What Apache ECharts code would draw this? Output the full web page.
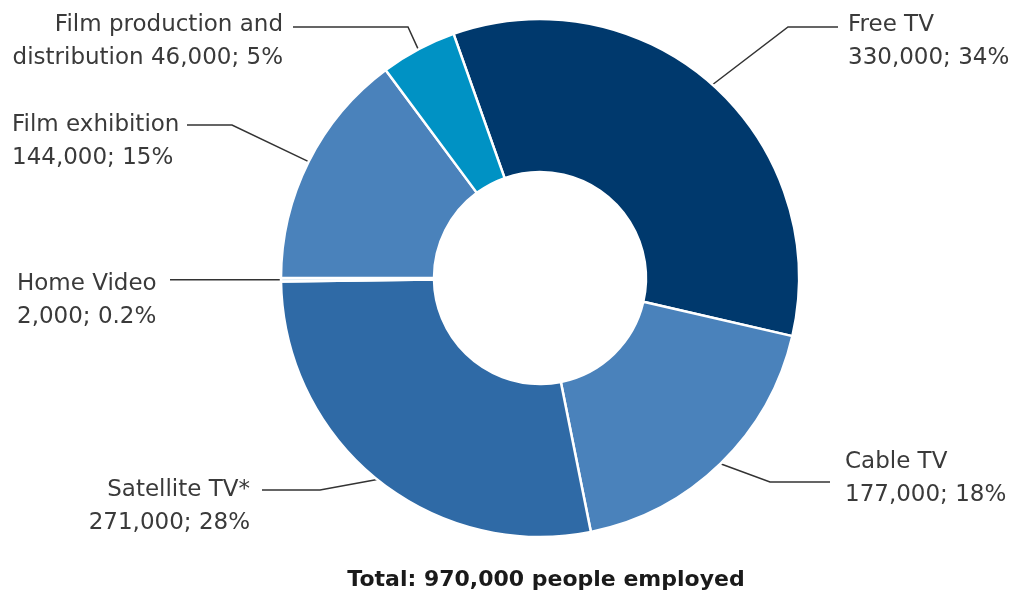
<!DOCTYPE html>
<html>
<head>
<meta charset="utf-8">
<script src="https://cdn.jsdelivr.net/npm/echarts@6/dist/echarts.min.js"></script>
<style>
html,body{margin:0;padding:0;background:#fff;}
#chart{width:1018px;height:592px;}
</style>
</head>
<body>
<div id="chart"></div>
<script>
// ---- data ----
const categories = ['Free TV', 'Cable TV', 'Satellite TV*', 'Home Video', 'Film exhibition', 'Film production and\ndistribution'];
const employees = [330000, 177000, 271000, 2000, 144000, 46000];
const percentLabels = ['34%', '18%', '28%', '0.2%', '15%', '5%'];
const totalText = 'Total: 970,000 people employed';

// ---- styles ----
const colors = ['#00396d', '#4a82bb', '#2f6aa6', '#cfe3f2', '#4a82bb', '#0092c4'];
// label placement: text anchor (x, y top), alignment, elbow & end points of leader line
const labelPlacement = [
  { x: 848, y: 9,   align: 'left',  elbow: [788, 27],  end: [838, 27] },
  { x: 845, y: 446, align: 'left',  elbow: [770, 482], end: [830, 482] },
  { x: 250, y: 474, align: 'right', elbow: [320, 490], end: [262, 490] },
  { x: 17,  y: 268, align: 'left',  elbow: [230, null], end: [170, null] },
  { x: 12,  y: 109, align: 'left',  elbow: [232, 125], end: [187, 125] },
  { x: 283, y: 9,   align: 'right', elbow: [408, 27],  end: [293, 27] }
];
const FONT = 'DejaVu Sans, Liberation Sans, Arial, sans-serif';

function fmt(n) { return n.toLocaleString('en-US'); }

const chart = echarts.init(document.getElementById('chart'));
chart.setOption({
  backgroundColor: '#ffffff',
  animation: false,
  title: {
    text: totalText,
    left: 541,
    textAlign: 'center',
    top: 564,
    textStyle: { fontFamily: FONT, fontSize: 22, fontWeight: 'bold', color: '#1a1a1a' }
  },
  series: [{
    type: 'pie',
    center: [540, 278],
    radius: [106, 259],
    startAngle: 109.5,
    clockwise: true,
    avoidLabelOverlap: false,
    itemStyle: { borderColor: '#ffffff', borderWidth: 2.5 },
    label: {
      show: true,
      position: 'outside',
      fontFamily: FONT,
      fontSize: 23,
      lineHeight: 33,
      color: '#3a3a3a',
      formatter: p => {
        const i = p.dataIndex;
        if (i === 5) return 'Film production and\ndistribution ' + fmt(employees[i]) + '; ' + percentLabels[i];
        return categories[i] + '\n' + fmt(employees[i]) + '; ' + percentLabels[i];
      }
    },
    labelLine: { show: true, length: 20, length2: 20, lineStyle: { color: '#333', width: 1.5 } },
    labelLayout: function (params) {
      const c = labelPlacement[params.dataIndex];
      const p0 = params.labelLinePoints ? params.labelLinePoints[0] : [c.elbow[0], c.elbow[1] || 280];
      const ey = c.elbow[1] == null ? p0[1] : c.elbow[1];
      const ny = c.end[1] == null ? p0[1] : c.end[1];
      return {
        x: c.x,
        y: c.y,
        align: c.align,
        verticalAlign: 'top',
        labelLinePoints: [p0, [c.elbow[0], ey], [c.end[0], ny]]
      };
    },
    data: categories.map((name, i) => ({ name: name, value: employees[i], itemStyle: { color: colors[i] } }))
  }]
});
</script>
</body>
</html>
